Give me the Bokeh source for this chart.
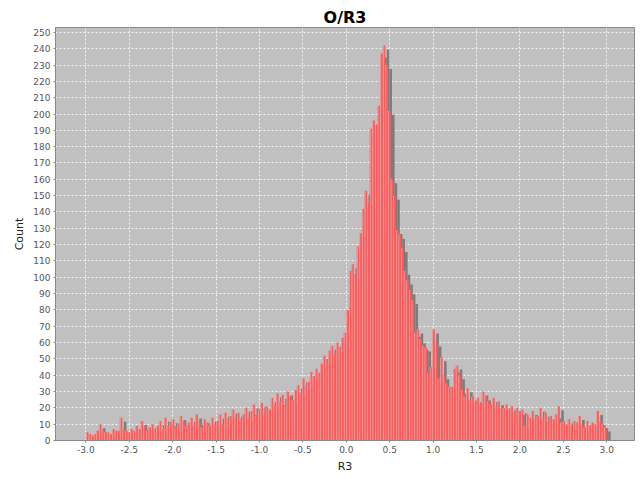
import numpy as np
from bokeh.plotting import figure
from bokeh.models import SingleIntervalTicker, PrintfTickFormatter, ColumnDataSource
from bokeh.embed import file_html
from bokeh.resources import INLINE

# Histogram of R3: 200 bins over [-3, 3]
bin_start = -3.0
bin_end = 3.0
counts = [
    5, 4, 3, 4, 6, 10, 7, 5, 5, 4,
    7, 6, 6, 14, 7, 6, 5, 7, 6, 9,
    7, 12, 9, 6, 8, 10, 7, 9, 12, 7,
    14, 9, 11, 13, 8, 10, 15, 12, 9, 11,
    14, 10, 16, 12, 8, 13, 11, 9, 14, 10,
    12, 16, 10, 17, 13, 15, 19, 14, 17, 13,
    16, 20, 14, 18, 22, 15, 19, 23, 17, 21,
    19, 26, 22, 29, 24, 28, 21, 30, 27, 25,
    31, 34, 29, 38, 33, 36, 42, 39, 44, 41,
    47, 52, 50, 55, 58, 53, 60, 57, 63, 66,
    80, 104, 108, 101, 119, 127, 142, 153, 146, 191,
    196, 193, 205, 237, 242, 230, 202, 160, 150, 129,
    126, 118, 104, 98, 92, 86, 66, 68, 62, 58,
    57, 41, 45, 68, 60, 38, 51, 40, 35, 33,
    33, 44, 46, 40, 31, 27, 32, 25, 27, 24,
    26, 23, 30, 27, 24, 22, 26, 21, 24, 20,
    20, 22, 19, 21, 17, 20, 18, 19, 9, 16,
    14, 18, 13, 15, 20, 14, 17, 12, 15, 13,
    16, 21, 11, 12, 10, 13, 9, 12, 11, 15,
    10, 8, 12, 9, 11, 10, 18, 12, 10, 8,
]
title_text = "O/R3"
x_label = "R3"
y_label = "Count"

edges = np.linspace(bin_start, bin_end, len(counts) + 1)
c = np.array(counts, dtype=float)
left = edges[:-1]
right = edges[1:]
w = right - left

W, H = 644, 479
fl, fr, ft, fb = 55, 10, 27, 39
x0, x1 = -3.35, 3.32
y0, y1 = 0, 253
px_x = (W - fl - fr) / (x1 - x0)
px_y = (H - ft - fb) / (y1 - y0)
sdx = 4 / px_x
sdy = 4 / px_y

p = figure(width=W, height=H, x_range=(x0, x1), y_range=(y0, y1),
           output_backend="svg", toolbar_location=None,
           min_border_left=fl, min_border_right=fr, min_border_top=ft, min_border_bottom=fb,
           background_fill_color="#C0C0C0", border_fill_color="white",
           outline_line_color="#8a8a8a")

p.title.text = title_text
p.title.align = "center"
p.title.text_font = "DejaVu Sans"
p.title.text_font_size = "16px"
p.title.text_font_style = "bold"
p.title.text_color = "#000000"
p.title.standoff = 2
p.title.offset = 0

src = ColumnDataSource(dict(
    sl=left + sdx, sr=right + sdx, st=np.maximum(c - sdy, 0),
    l=left, r=right, t=c,
    hl=left + 0.08 * w, hr=left + 0.3 * w,
))
# shadows
p.quad(left="sl", right="sr", top="st", bottom=0, source=src,
       fill_color="#7c7c7c", line_color=None)
# bars
p.quad(left="l", right="r", top="t", bottom=0, source=src,
       fill_color="#FA5E5E", line_color=None)
# gradient highlight
p.quad(left="hl", right="hr", top="t", bottom=0, source=src,
       fill_color="#FFB0B0", line_color=None)

p.xaxis.ticker = SingleIntervalTicker(interval=0.5, num_minor_ticks=0)
p.yaxis.ticker = SingleIntervalTicker(interval=10, num_minor_ticks=0)
p.xaxis.formatter = PrintfTickFormatter(format="%.1f")
p.yaxis.formatter = PrintfTickFormatter(format="%d")
p.xaxis.axis_label = x_label
p.yaxis.axis_label = y_label

for ax in (p.xaxis[0], p.yaxis[0]):
    ax.major_label_text_font = "DejaVu Sans"
    ax.major_label_text_font_size = "9px"
    ax.major_label_text_color = "#555555"
    ax.axis_label_text_font = "DejaVu Sans"
    ax.axis_label_text_font_size = "11px"
    ax.axis_label_text_font_style = "normal"
    ax.axis_label_text_color = "#222222"
    ax.axis_line_color = "#8a8a8a"
    ax.major_tick_line_color = "#8a8a8a"
    ax.major_tick_out = 2
    ax.major_tick_in = 0
    ax.minor_tick_line_color = None
    ax.major_label_standoff = 3
    ax.axis_label_standoff = 4

p.xgrid.grid_line_color = "white"
p.ygrid.grid_line_color = "white"
p.xgrid.grid_line_dash = "2 2"
p.ygrid.grid_line_dash = "2 2"
p.xgrid.grid_line_alpha = 0.8
p.ygrid.grid_line_alpha = 0.8

open("out.html", "w").write(file_html(p, INLINE))
